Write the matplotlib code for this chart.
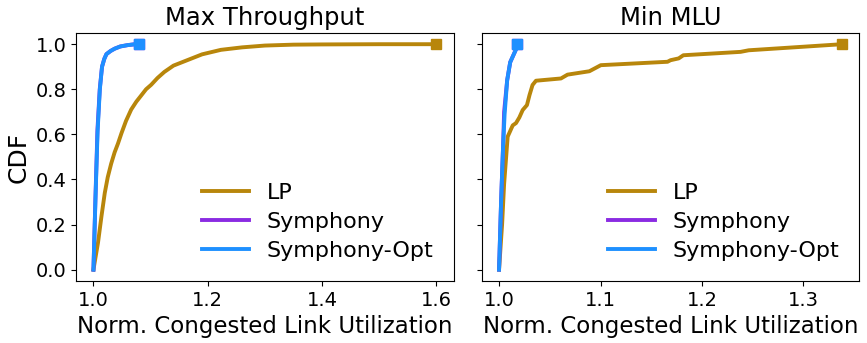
import matplotlib
matplotlib.use("Agg")
import matplotlib.pyplot as plt

# Max Throughput panel
mt_lp_x = [1.0, 1.004, 1.008, 1.014, 1.0198, 1.025, 1.031, 1.037, 1.043, 1.049, 1.057, 1.066, 1.075,
           1.084, 1.092, 1.101, 1.112, 1.124, 1.14, 1.165, 1.19, 1.223, 1.26, 1.3, 1.35, 1.4, 1.5, 1.6]
mt_lp_y = [0.0, 0.06, 0.12, 0.236, 0.34, 0.41, 0.47, 0.52, 0.56, 0.605, 0.66, 0.71, 0.745,
           0.774, 0.80, 0.82, 0.85, 0.877, 0.905, 0.93, 0.955, 0.975, 0.986, 0.994, 0.998, 0.999, 1.0, 1.0]
mt_sym_x = [1.0, 1.0035, 1.007, 1.011, 1.015, 1.019, 1.0227, 1.03, 1.037, 1.047, 1.06, 1.07, 1.08]
mt_sym_y = [0.0, 0.32, 0.62, 0.80, 0.90, 0.935, 0.956, 0.97, 0.98, 0.99, 0.996, 0.999, 1.0]
mt_opt_x = [1.0, 1.0035, 1.0072, 1.0112, 1.015, 1.019, 1.0227, 1.03, 1.037, 1.047, 1.06, 1.07, 1.08]
mt_opt_y = [0.0, 0.31, 0.61, 0.80, 0.90, 0.935, 0.956, 0.97, 0.98, 0.99, 0.996, 0.999, 1.0]

# Min MLU panel
mm_lp_x = [1.0, 1.003, 1.005, 1.0085, 1.0135, 1.0167, 1.020, 1.0233, 1.0275, 1.030, 1.033, 1.0364,
           1.061, 1.0675, 1.089, 1.1003, 1.166, 1.169, 1.177, 1.1816, 1.238, 1.246, 1.338]
mm_lp_y = [0.0, 0.2, 0.38, 0.59, 0.64, 0.65, 0.675, 0.708, 0.73, 0.774, 0.819, 0.838,
           0.848, 0.865, 0.88, 0.907, 0.922, 0.929, 0.937, 0.951, 0.966, 0.973, 1.0]
mm_sym_x = [1.0, 1.002, 1.004, 1.005, 1.008, 1.011, 1.014, 1.017, 1.018]
mm_sym_y = [0.0, 0.3, 0.55, 0.70, 0.84, 0.92, 0.95, 0.98, 1.0]
mm_opt_x = [1.0, 1.002, 1.004, 1.0055, 1.008, 1.011, 1.014, 1.017, 1.018]
mm_opt_y = [0.0, 0.3, 0.55, 0.69, 0.84, 0.92, 0.95, 0.98, 1.0]

LP_COLOR = '#b8860b'
SYM_COLOR = '#8a2be2'
OPT_COLOR = '#1e90ff'

fig, axes = plt.subplots(1, 2, figsize=(8.67, 3.43), dpi=100, sharey=True)
fig.subplots_adjust(left=0.088, right=0.991, top=0.904, bottom=0.181, wspace=0.075)

panels = [
    ("Max Throughput", (mt_lp_x, mt_lp_y), (mt_sym_x, mt_sym_y), (mt_opt_x, mt_opt_y), [1.0, 1.2, 1.4, 1.6]),
    ("Min MLU", (mm_lp_x, mm_lp_y), (mm_sym_x, mm_sym_y), (mm_opt_x, mm_opt_y), [1.0, 1.1, 1.2, 1.3]),
]

for ax, (title, lp, sym, opt, xt) in zip(axes, panels):
    for (xs, ys), c, lab in [(lp, LP_COLOR, 'LP'), (sym, SYM_COLOR, 'Symphony'), (opt, OPT_COLOR, 'Symphony-Opt')]:
        ax.plot(xs, ys, color=c, lw=2.8, label=lab)
        # end marker only, kept out of the legend
        ax.plot(xs[-1], ys[-1], color=c, marker='s', markersize=7.5, ls='none')
    ax.set_title(title, fontsize=17.5)
    ax.set_xticks(xt)
    ax.tick_params(labelsize=14)
    ax.set_xlabel('Norm. Congested Link Utilization', fontsize=16.5)
    ax.legend(loc='lower right', frameon=False, fontsize=16, handlelength=2.1, labelspacing=0.4)

axes[0].set_ylabel('CDF', fontsize=18)
axes[0].set_yticks([0.0, 0.2, 0.4, 0.6, 0.8, 1.0])

fig.savefig('out.png')
